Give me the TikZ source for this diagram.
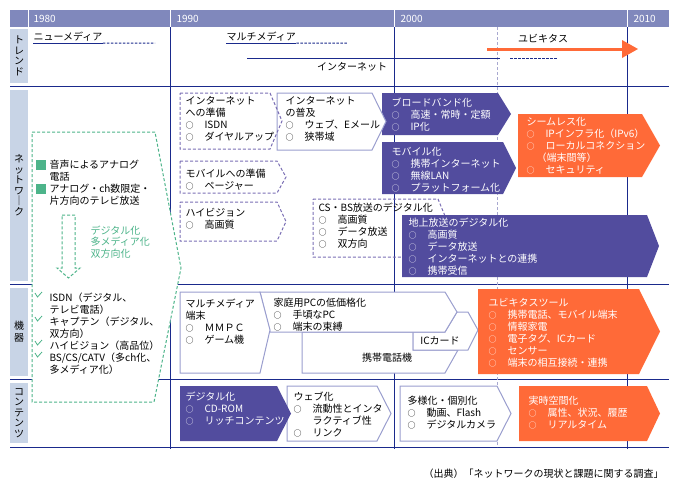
\documentclass[tikz,border=0pt]{standalone}
\usepackage{fontspec}
\setmainfont{Noto Sans CJK JP}
\usepackage{tikz}
\definecolor{headBlue}{HTML}{8088BC}
\definecolor{labelBlue}{HTML}{C8D4E6}
\definecolor{lineNavy}{HTML}{1A2A8C}
\definecolor{gridGray}{HTML}{A8A8D0}
\definecolor{boxPurple}{HTML}{524C9E}
\definecolor{boxOrange}{HTML}{FF6A38}
\definecolor{dashLav}{HTML}{7A6EB4}
\definecolor{lineLav}{HTML}{9A9ECE}
\definecolor{oldGreen}{HTML}{4DB48A}
\tikzset{
    dashBox/.style={draw=dashLav, dash pattern=on 3pt off 2pt},
    lineBox/.style={draw=lineLav, fill=white},
    purpleBox/.style={fill=boxPurple},
    orangeBox/.style={fill=boxOrange},
    greenDash/.style={draw=oldGreen, dash pattern=on 3pt off 2pt},
    boxText/.style={anchor=north west, inner sep=0pt, align=left, font=\fontsize{10}{12}\selectfont},
    whiteText/.style={boxText, text=white},
    rowText/.style={inner sep=0pt, align=center, font=\fontsize{10}{10.5}\selectfont},
    yearText/.style={anchor=west, inner sep=0pt, text=white, font=\fontsize{10}{10}\selectfont},
    lineText/.style={inner sep=0pt, font=\fontsize{10}{10}\selectfont},
    trendLine/.style={draw=lineNavy, dash pattern=on 2.5pt off 1.5pt}
}
\tikzset{
    tick/.pic={
		\draw[oldGreen, line width=0.8pt] (0,0) -- (2.5,4) -- (7,-1);
	}
}
\newcommand{\maru}{\makebox[19pt][l]{\fontsize{8}{8}\selectfont ○}}

\begin{document}
\begin{tikzpicture}[x=1pt, y=-1pt, line width=1pt]
		\useasboundingbox (0,0) rectangle (679,490);
		% header and row labels
		\fill[headBlue] (10,10) rectangle (669,27);
		\foreach \x in {28,170,394,627} \draw[white] (\x,10) -- (\x,27);
		\node[yearText] (y1980) at (33,18.5) {1980};
		\node[yearText] (y1990) at (176,18.5) {1990};
		\node[yearText] (y2000) at (400,18.5) {2000};
		\node[yearText] (y2010) at (633,18.5) {2010};
		\fill[labelBlue] (10,29) rectangle (28,83);
		\fill[labelBlue] (10,90) rectangle (28,281);
		\fill[labelBlue] (10,288) rectangle (28,376);
		\fill[labelBlue] (10,383) rectangle (28,443);
		\node[rowText] (trendLab) at (19,56) {ト\\レ\\ン\\ド};
		\node[rowText] (netLab) at (19,185) {ネ\\ッ\\ト\\ワ\\｜\\ク};
		\node[rowText, font=\fontsize{10}{12}\selectfont] (devLab) at (19,332) {機\\器};
		\node[rowText] (contLab) at (19,413) {コ\\ン\\テ\\ン\\ツ};
		% grid
		\foreach \y in {86,284,379,447} \draw[lineNavy] (10,\y) -- (669,\y);
		\foreach \x in {170,394,627} \draw[lineNavy] (\x,27) -- (\x,449);
		\draw[gridGray, dash pattern=on 3pt off 2pt] (497,27) -- (497,447);
		% trend row
		\node[lineText, anchor=west] (newMedia) at (33,37) {ニューメディア};
		\draw[lineNavy] ([yshift=-1pt]newMedia.south west) -- ([yshift=-1pt]newMedia.south east) coordinate (nmEnd);
		\draw[trendLine] (nmEnd) -- (155,43);
		\node[lineText, anchor=west] (multiMedia) at (226,37) {マルチメディア};
		\draw[lineNavy] ([yshift=-1pt]multiMedia.south west) -- ([yshift=-1pt]multiMedia.south east) coordinate (mmEnd);
		\draw[trendLine] (mmEnd) -- (348,43);
		\draw[lineNavy] (247,58) -- (500,58);
		\draw[trendLine] (510,58) -- (558,58);
		\node[lineText] (internet) at (352,67) {インターネット};
		\draw[boxOrange, line width=3pt] (487,49) -- (623,49);
		\fill[boxOrange] (622,40) -- (638,49) -- (622,58) -- cycle;
		\node[lineText] (ubiquitous) at (543,39) {ユビキタス};
		% old era
		\draw[greenDash, fill=white] (32,132) -- (155,132) -- (181,268) -- (154,402) -- (32,402) -- cycle;
		\fill[oldGreen] (36,160) rectangle (46,170);
		\fill[oldGreen] (36,184) rectangle (46,194);
		\node[boxText] (analog) at (49,160) {音声によるアナログ\\電話\\アナログ・ch数限定・\\片方向のテレビ放送};
		\draw[greenDash] (62,215) -- (75,215) -- (75,268) -- (80,268) -- (68.5,278) -- (57,268) -- (62,268) -- cycle;
		\node[boxText, text=oldGreen, font=\fontsize{10}{11.5}\selectfont] (toDigital) at (90,225) {デジタル化\\多メディア化\\双方向化};
		\node[boxText] (oldDevices) at (49,292) {ISDN（デジタル、\\テレビ電話）\\キャプテン（デジタル、\\双方向）\\ハイビジョン（高品位）\\BS/CS/CATV（多ch化、\\多メディア化）};
		\pic at (35,293) {tick};
		\pic at (35,317) {tick};
		\pic at (35,341) {tick};
		\pic at (35,353) {tick};
		% network row
		\fill[purpleBox] (382,93) -- (498,93) -- (511,114) -- (498,135) -- (382,135) -- cycle;
		\fill[purpleBox] (382,142) -- (503,142) -- (516,168) -- (503,194) -- (382,194) -- cycle;
		\draw[lineBox] (277,93) -- (372,93) -- (386,121.5) -- (372,150) -- (277,150) -- cycle;
		\draw[dashBox] (180,93) -- (270,93) -- (282,121) -- (270,149) -- (180,149) -- cycle;
		\fill[orangeBox] (518,114) -- (642,114) -- (660,145.5) -- (642,177) -- (518,177) -- cycle;
		\draw[dashBox] (180,161) -- (277,161) -- (286,177) -- (277,193) -- (180,193) -- cycle;
		\draw[dashBox] (180,202) -- (277,202) -- (286,221.5) -- (277,241) -- (180,241) -- cycle;
		\draw[dashBox] (313,199) -- (438,199) -- (450,228) -- (438,257) -- (313,257) -- cycle;
		\fill[purpleBox] (402,215) -- (647,215) -- (659,246) -- (647,277) -- (402,277) -- cycle;
		\node[boxText] (prepNet) at (185,96) {インターネット\\への準備\\\maru ISDN\\\maru ダイヤルアップ};
		\node[boxText] (spreadNet) at (285,96) {インターネット\\の普及\\\maru ウェブ、Eメール\\\maru 狭帯域};
		\node[whiteText] (broadband) at (391,97) {ブロードバンド化\\\maru 高速・常時・定額\\\maru IP化};
		\node[whiteText] (mobile) at (391,147) {モバイル化\\\maru 携帯インターネット\\\maru 無線LAN\\\maru プラットフォーム化};
		\node[whiteText] (seamless) at (526,117) {シームレス化\\\maru IPインフラ化（IPv6）\\\maru ローカルコネクション\\\hspace{10pt}（端末間等）\\\maru セキュリティ};
		\node[boxText] (prepMobile) at (185,169) {モバイルへの準備\\\maru ページャー};
		\node[boxText] (hiVision) at (185,208) {ハイビジョン\\\maru 高画質};
		\node[boxText] (satDigital) at (318,202) {CS・BS放送のデジタル化\\\maru 高画質\\\maru データ放送\\\maru 双方向};
		\node[whiteText] (groundDigital) at (408,217) {地上放送のデジタル化\\\maru 高画質\\\maru データ放送\\\maru インターネットとの連携\\\maru 携帯受信};
		% device row
		\draw[lineBox] (302,332) -- (302,373) -- (445,373) -- (458,350) -- (413,350) -- (413,332) -- cycle;
		\draw[lineBox] (445,332) -- (457,312) -- (468,312) -- (478,330) -- (468,350) -- (413,350) -- (413,332) -- cycle;
		\draw[lineBox] (260,292) -- (445,292) -- (457,312) -- (445,332) -- (270,332) -- cycle;
		\draw[lineBox] (180,292) -- (260,292) -- (270,330) -- (260,373) -- (180,373) -- cycle;
		\fill[orangeBox] (478,289) -- (639,289) -- (660,331.5) -- (639,374) -- (478,374) -- cycle;
		\node[boxText] (mmTerminal) at (185,298) {マルチメディア\\端末\\\maru ＭＭＰＣ\\\maru ゲーム機};
		\node[boxText] (cheapPC) at (273,298) {家庭用PCの低価格化\\\maru 手頃なPC\\\maru 端末の束縛};
		\node[lineText] (icCard) at (440,341) {ICカード};
		\node[lineText] (cellPhone) at (387,358) {携帯電話機};
		\node[whiteText] (ubiTools) at (488,298) {ユビキタスツール\\\maru 携帯電話、モバイル端末\\\maru 情報家電\\\maru 電子タグ、ICカード\\\maru センサー\\\maru 端末の相互接続・連携};
		% contents row
		\draw[lineBox] (287,386) -- (377,386) -- (391,413.5) -- (377,441) -- (287,441) -- cycle;
		\fill[purpleBox] (180,386) -- (277,386) -- (291,413.5) -- (277,441) -- (180,441) -- cycle;
		\draw[lineBox] (400,386) -- (497,386) -- (511,413.5) -- (497,441) -- (400,441) -- cycle;
		\fill[orangeBox] (519,386) -- (647,386) -- (660,413.5) -- (647,441) -- (519,441) -- cycle;
		\node[whiteText] (digitalCont) at (185,391) {デジタル化\\\maru CD-ROM\\\maru リッチコンテンツ};
		\node[boxText] (webCont) at (293,391) {ウェブ化\\\maru 流動性とインタ\\\hspace{19pt}ラクティブ性\\\maru リンク};
		\node[boxText] (diverse) at (407,396) {多様化・個別化\\\maru 動画、Flash\\\maru デジタルカメラ};
		\node[whiteText] (realTime) at (528,396) {実時空間化\\\maru 属性、状況、履歴\\\maru リアルタイム};
		\node[lineText, anchor=east] (source) at (664,474) {（出典）「ネットワークの現状と課題に関する調査」};
\end{tikzpicture}
\end{document}
